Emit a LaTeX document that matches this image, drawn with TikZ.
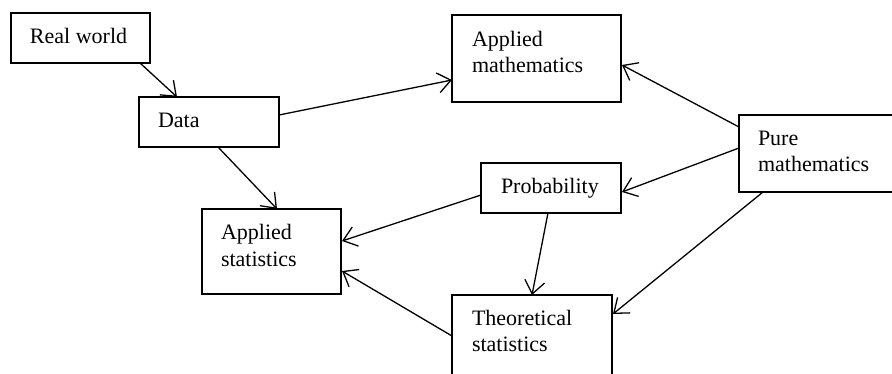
\documentclass[tikz,border=0pt]{standalone}
\usepackage{fontspec}
\setmainfont{Liberation Serif}
\usetikzlibrary{arrows.meta,calc}
\begin{document}
\begin{tikzpicture}[x=1pt,y=-1pt,
  box/.style={draw=black,line width=1.2pt,inner sep=0pt,outer sep=0pt},
  lbl/.style={inner sep=0pt,outer sep=0pt,anchor=base west,align=left,font=\fontsize{22}{26}\selectfont},
  arr/.style={line width=1.3pt,-{Straight Barb[length=13pt,width=20pt,line width=1.3pt]}}]
\useasboundingbox (0,0) rectangle (892,374);
% boxes
\node[box,minimum width=139pt,minimum height=50pt] (rw) at (80.5,38) {};
\node[box,minimum width=140pt,minimum height=50pt] (data) at (209,122) {};
\node[box,minimum width=169pt,minimum height=87pt] (am) at (536.5,58.5) {};
\node[box,minimum width=161pt,minimum height=77pt] (pm) at (819.5,153.5) {};
\node[box,minimum width=140pt,minimum height=50pt] (prob) at (551,188) {};
\node[box,minimum width=139pt,minimum height=85pt] (as) at (271.5,251.5) {};
\node[box,minimum width=160pt,minimum height=100pt] (ts) at (532,345) {};
% labels (base anchor = baseline of the last line)
\node[lbl] (trw) at (30,44) {Real world};
\node[lbl] (tdata) at (158,128) {Data};
\node[lbl] (tam) at (472,73) {Applied\\mathematics};
\node[lbl] (tpm) at (758,172) {Pure\\mathematics};
\node[lbl] (tprob) at (501,194) {Probability};
\node[lbl] (tas) at (221,266) {Applied\\statistics};
\node[lbl] (tts) at (472,351) {Theoretical\\statistics};
% connectors
\draw[arr] ($(rw.south west)+(129,0)$) -- ($(data.north west)+(38,0)$);
\draw[arr] ($(data.south west)+(79,0)$) -- ($(as.north west)+(75,0)$);
\draw[arr] ($(data.north east)+(0,18)$) -- ($(am.north west)+(0,65)$);
\draw[arr] ($(pm.north west)+(0,12)$) -- ($(am.north east)+(1,50)$);
\draw[arr] ($(pm.north west)+(0,33)$) -- ($(prob.north east)+(1,29)$);
\draw[arr] ($(prob.north west)+(0,32)$) -- ($(as.north east)+(1,32)$);
\draw[arr] ($(prob.south west)+(67,0)$) -- ($(ts.north west)+(80,0)$);
\draw[arr] ($(pm.south west)+(24,0)$) -- ($(ts.north east)+(1,19)$);
\draw[arr] ($(ts.north west)+(0,41)$) -- ($(as.north east)+(1,62)$);
\end{tikzpicture}
\end{document}
